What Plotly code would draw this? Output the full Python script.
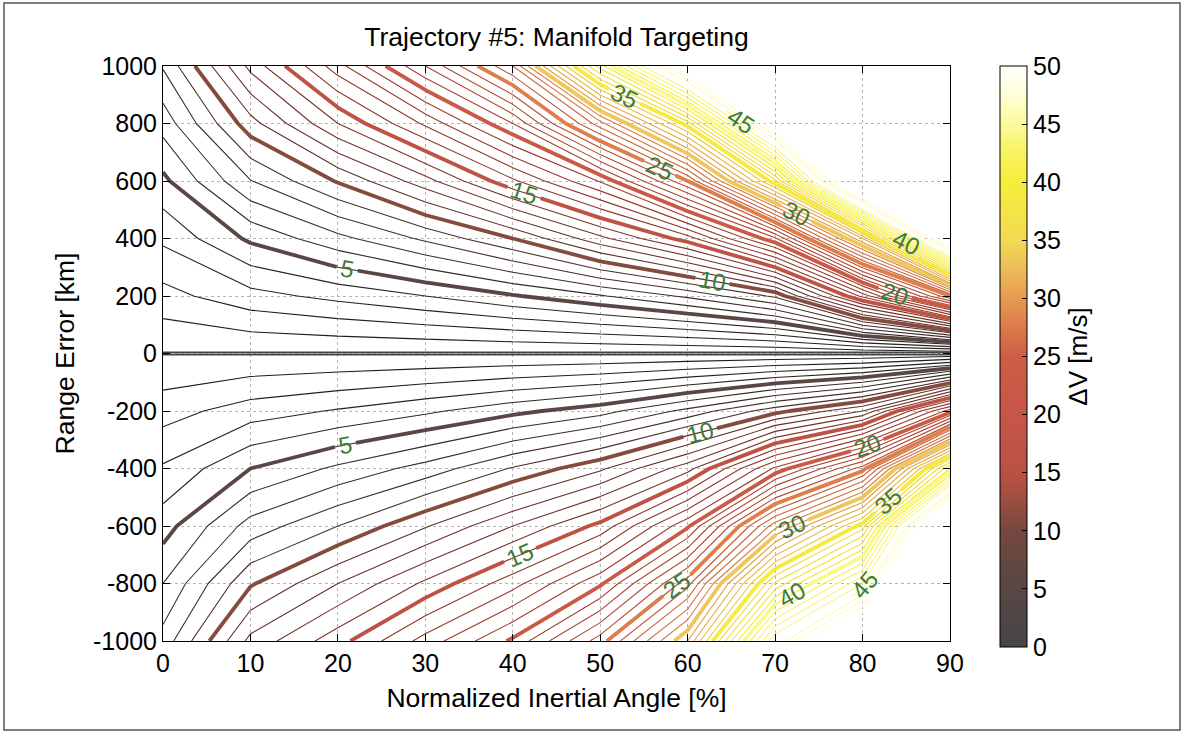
import plotly.graph_objects as go

# Normalized inertial angle samples [%]
angle = [0, 10, 20, 30, 40, 50, 60, 70, 80, 90]

# Range error samples [km], upper (positive) and lower (negative) halves
range_up = [0, 200, 400, 600, 800, 1000]
range_down = [-1000, -800, -600, -400, -200, 0]

# Delta-V [m/s] on the grid, one row per range value, one column per angle
dv_up = [
    [0, 0, 0, 0, 0, 0, 0, 0, 0, 0],
    [1.65, 2.65, 3.3, 4.0, 4.9, 5.9, 7.2, 9.2, 16.3, 25],
    [3.2, 5.2, 6.7, 8.2, 10.0, 12.7, 15.5, 20.8, 32, 52],
    [4.75, 7.95, 10.1, 12.6, 15.8, 19.1, 25.0, 35.7, 55, 80],
    [6.4, 10.6, 14.0, 17.2, 21.0, 27.6, 35.5, 50, 75, 106],
    [8.1, 13.3, 17.6, 22.0, 27.0, 38.5, 50, 62, 95, 133],
]
dv_down = [
    [7.4, 12.3, 14.6, 17.4, 20.2, 24.5, 31, 45, 54, 82],
    [6.0, 9.87, 12.0, 14.2, 16.6, 19.8, 25.6, 37.2, 44, 68],
    [4.55, 7.4, 9.0, 10.9, 13.0, 15.3, 19.8, 28.6, 35.5, 56],
    [3.13, 5.0, 6.2, 7.4, 9.1, 10.8, 13.6, 19.2, 24.5, 39],
    [1.57, 2.5, 3.1, 3.8, 4.7, 5.6, 7.3, 9.6, 12, 19.5],
    [0, 0, 0, 0, 0, 0, 0, 0, 0, 0],
]

x_ticks = [0, 10, 20, 30, 40, 50, 60, 70, 80, 90]
y_ticks = [-1000, -800, -600, -400, -200, 0, 200, 400, 600, 800, 1000]
y_tick_text = [str(v) for v in y_ticks]
cbar_ticks = [0, 5, 10, 15, 20, 25, 30, 35, 40, 45, 50]

FONT = "Liberation Sans, Arial, sans-serif"
LABEL_GREEN = "#3e7b3a"

# colour map of the colour bar and the heavy contours
dv_scale = [
    [0.00, "#484545"],
    [0.10, "#574745"],
    [0.20, "#74483f"],
    [0.26, "#a24f40"],
    [0.30, "#ba5243"],
    [0.40, "#c65648"],
    [0.50, "#cf5d44"],
    [0.55, "#dc7a4a"],
    [0.60, "#e69a52"],
    [0.66, "#eec25a"],
    [0.70, "#f2da52"],
    [0.80, "#f6ee3a"],
    [0.86, "#f8f46a"],
    [0.90, "#fbfb9c"],
    [0.95, "#fefed8"],
    [1.00, "#ffffff"],
]
# same map, printed darker on the fine 1 m/s contours
dv_scale_fine = [
    [0.00, "#1e1c1c"],
    [0.10, "#352a29"],
    [0.20, "#58302a"],
    [0.30, "#8a3528"],
    [0.40, "#a63f2e"],
    [0.50, "#bb5034"],
    [0.60, "#d98a45"],
    [0.70, "#ecd044"],
    [0.80, "#f4ea30"],
    [0.90, "#f8f88a"],
    [1.00, "#ffffff"],
]

fig = go.Figure()


def add_half(rng, dv):
    # fine 1 m/s contours
    fig.add_trace(go.Contour(
        x=angle, y=rng, z=dv,
        colorscale=dv_scale_fine, zmin=0, zmax=50, zauto=False,
        autocontour=False,
        contours=dict(start=1, end=49, size=1, coloring="lines", showlabels=False),
        line=dict(width=1.1, smoothing=0),
        showscale=False, hoverinfo="skip",
    ))
    # labelled 5 m/s contours
    fig.add_trace(go.Contour(
        x=angle, y=rng, z=dv,
        colorscale=dv_scale, zmin=0, zmax=50, zauto=False,
        autocontour=False,
        contours=dict(start=0, end=45, size=5, coloring="lines", showlabels=True,
                      labelfont=dict(family=FONT, size=24, color=LABEL_GREEN)),
        line=dict(width=3.8, smoothing=0),
        showscale=False, hoverinfo="skip",
    ))


add_half(range_up, dv_up)
add_half(range_down, dv_down)

# continuous colour bar for Delta-V
fig.add_trace(go.Scatter(
    x=[None], y=[None], mode="markers", hoverinfo="skip", showlegend=False,
    marker=dict(
        color=[0], cmin=0, cmax=50, colorscale=dv_scale, showscale=True,
        colorbar=dict(
            x=1.0635, xanchor="left", xref="paper", xpad=0,
            y=1.0, yanchor="top", yref="paper", ypad=0,
            len=581, lenmode="pixels", thickness=27,
            outlinecolor="black", outlinewidth=1,
            tickvals=cbar_ticks, ticks="inside", ticklen=5, tickcolor="black",
            tickfont=dict(family=FONT, size=25, color="black"),
            title=dict(text="ΔV [m/s]", side="right",
                       font=dict(family=FONT, size=26, color="black")),
        ),
    ),
))

axis_common = dict(
    showline=True, linecolor="black", linewidth=1, mirror="allticks",
    ticks="inside", ticklen=7, tickcolor="black",
    showgrid=True, gridcolor="#b5b5b5", griddash="dot", gridwidth=1,
    zeroline=False,
    tickfont=dict(family=FONT, size=25, color="black"),
)

fig.update_layout(
    width=1183, height=734,
    margin=dict(l=163, r=233, t=66, b=93),
    paper_bgcolor="white", plot_bgcolor="white",
    title=dict(text="Trajectory #5: Manifold Targeting", x=0.5, xref="paper",
               y=1 - 37 / 734, yanchor="middle",
               font=dict(family=FONT, size=26.5, color="black")),
    xaxis=dict(range=[0, 90], tickvals=x_ticks, **axis_common,
               title=dict(text="Normalized Inertial Angle [%]", standoff=12,
                          font=dict(family=FONT, size=26.5, color="black"))),
    yaxis=dict(range=[-1000, 1000], tickvals=y_ticks, ticktext=y_tick_text,
               **axis_common,
               title=dict(text="Range Error [km]", standoff=10,
                          font=dict(family=FONT, size=26.5, color="black"))),
    showlegend=False,
)

# thin frame around the whole figure
fig.add_shape(type="rect", xref="paper", yref="paper",
              x0=(4 - 163) / 787, x1=(1180 - 163) / 787,
              y0=(641 - 730) / 575, y1=(641 - 3) / 575,
              line=dict(color="#555555", width=1.5), layer="below")

fig.write_html("out.html")
